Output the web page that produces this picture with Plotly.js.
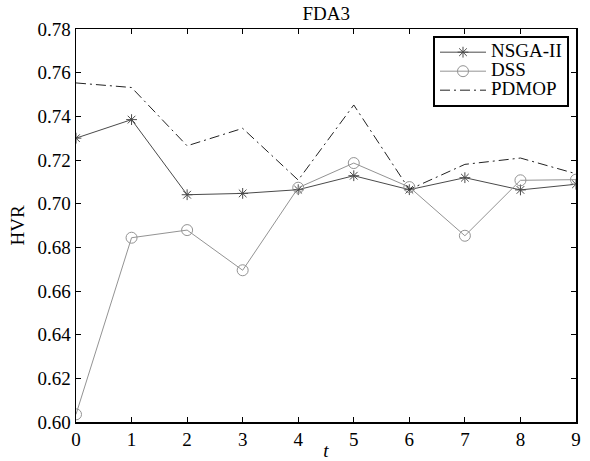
<!DOCTYPE html>
<html>
<head>
<meta charset="utf-8">
<script src="https://cdn.plot.ly/plotly-3.0.1.min.js"></script>
<style>html,body{margin:0;padding:0;background:#fff;}#chart{width:590px;height:461px;}</style>
</head>
<body>
<div id="chart"></div>
<script>
const tValues = [0, 1, 2, 3, 4, 5, 6, 7, 8, 9];
const seriesNames = ['NSGA-II', 'DSS', 'PDMOP'];
const nsga2 = [0.730, 0.7385, 0.7041, 0.7047, 0.7064, 0.7128, 0.7064, 0.7119, 0.7063, 0.7089];
const dss = [0.6035, 0.6844, 0.6879, 0.6695, 0.7073, 0.7186, 0.7076, 0.6853, 0.7107, 0.7110];
const pdmop = [0.7553, 0.7532, 0.7265, 0.7345, 0.7108, 0.7452, 0.7065, 0.7180, 0.7209, 0.7137];
const yTicks = [0.60, 0.62, 0.64, 0.66, 0.68, 0.70, 0.72, 0.74, 0.76, 0.78];
const yTickText = yTicks.map(v => v.toFixed(2));

const font = "Liberation Serif, Times New Roman, serif";
const big = s => '<span style="font-size:19px">' + s + '</span>';

const traces = [
  {x: tValues, y: nsga2, name: big(seriesNames[0]), mode: 'lines+markers', type: 'scatter',
   line: {color: '#4a4a4a', width: 1},
   marker: {symbol: 'asterisk-open', size: 9, color: '#4a4a4a', line: {color: '#4a4a4a', width: 1}}},
  {x: tValues, y: dss, name: big(seriesNames[1]), mode: 'lines+markers', type: 'scatter',
   line: {color: '#939393', width: 1},
   marker: {symbol: 'circle-open', size: 11, color: '#939393', line: {color: '#939393', width: 1}}},
  {x: tValues, y: pdmop, name: big(seriesNames[2]), mode: 'lines', type: 'scatter',
   line: {color: '#222222', width: 1, dash: '10px,4px,2px,4px'}}
];

const layout = {
  width: 590, height: 461,
  margin: {l: 76, r: 14, t: 29, b: 39},
  paper_bgcolor: '#fff', plot_bgcolor: '#fff',
  font: {family: font, size: 19, color: '#000'},
  title: {text: 'FDA3', font: {family: font, size: 19, color: '#000'}, x: 0.553, xanchor: 'center', y: 0.97, yanchor: 'middle'},
  showlegend: true,
  legend: {x: 0.986, xanchor: 'right', y: 0.983, yanchor: 'top', bgcolor: '#fff',
           bordercolor: '#000', borderwidth: 2, font: {family: font, size: 12, color: '#000'},
           tracegroupgap: 0, itemwidth: 46},
  xaxis: {range: [0, 9], tickvals: tValues, ticks: 'inside', ticklen: 5, tickcolor: '#000',
          showline: true, linecolor: '#000', linewidth: 1.5, mirror: 'ticks', showgrid: false, zeroline: false,
          tickfont: {family: font, size: 19}, title: {text: '<i>t</i>', standoff: 0, font: {family: font, size: 19}}},
  yaxis: {range: [0.60, 0.78], tickvals: yTicks, ticktext: yTickText, ticks: 'inside', ticklen: 5, tickcolor: '#000',
          showline: true, linecolor: '#000', linewidth: 1.5, mirror: 'ticks', showgrid: false, zeroline: false,
          tickfont: {family: font, size: 19}, title: {text: 'HVR', standoff: 8, font: {family: font, size: 19}}}
};

Plotly.newPlot('chart', traces, layout, {displayModeBar: false, staticPlot: true});
</script>
</body>
</html>
